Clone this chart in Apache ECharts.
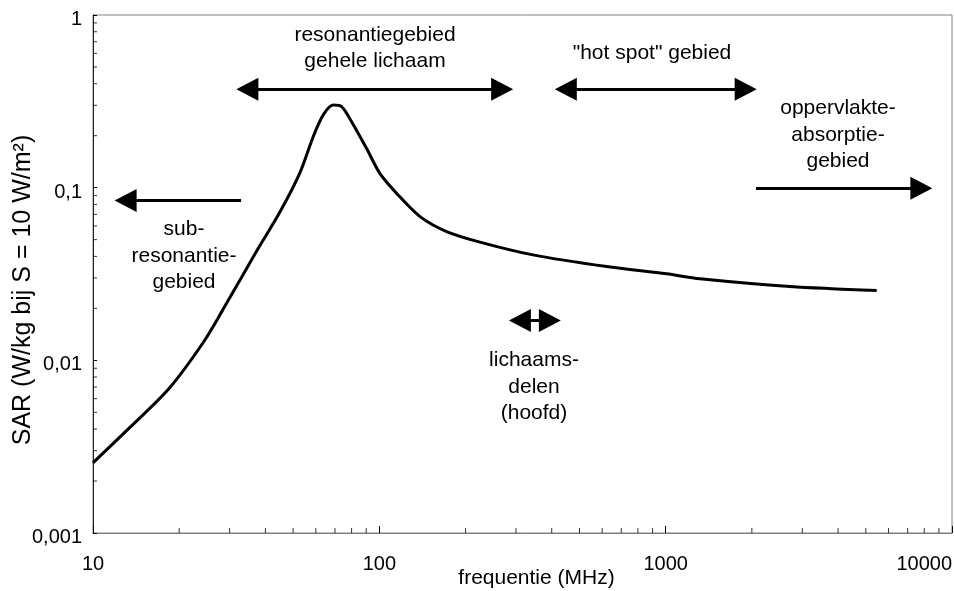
<!DOCTYPE html>
<html><head><meta charset="utf-8">
<script src="https://cdn.jsdelivr.net/npm/echarts@6/dist/echarts.min.js"></script>
<style>html,body{margin:0;padding:0;background:#fff}#c{width:954px;height:591px}</style>
</head><body><div id="c"></div>
<script>
// SAR curve (frequency in MHz, SAR in W/kg at S = 10 W/m2)
const freq = [10, 13.4, 18.5, 24.2, 28.4, 37.2, 44.9, 52.7, 58.8, 63.7, 69.0, 73.8, 80.0, 90.2, 100.4, 114.8, 138.7, 171.8, 224.5, 344, 622, 1007, 1318, 2716, 5458];
const sar  = [0.00255, 0.00406, 0.00692, 0.0126, 0.0196, 0.0427, 0.072, 0.121, 0.198, 0.264, 0.301, 0.295, 0.241, 0.169, 0.121, 0.0929, 0.068, 0.0557, 0.0484, 0.0408, 0.0349, 0.0317, 0.0297, 0.0268, 0.0254];

// Region arrows (data coordinates of the arrow ends)
const arrowFrom  = [34.6, 13.0, 448, 2068, 309.7];
const arrowTo    = [268.5, 32.9, 1903, 7816, 394];
const arrowLevel = [0.3715, 0.0842, 0.3715, 0.0993, 0.0170];
const arrowStart = ['triangle', 'triangle', 'triangle', 'none', 'triangle'];
const arrowEnd   = ['triangle', 'none', 'triangle', 'triangle', 'triangle'];

// Region labels
const regionLabels = [
  'resonantiegebied\ngehele lichaam',
  '"hot spot" gebied',
  'oppervlakte-\nabsorptie-\ngebied',
  'sub-\nresonantie-\ngebied',
  'lichaams-\ndelen\n(hoofd)'
];

// Axis ticks
const xMin = 10, xMax = 10000, yMin = 0.001, yMax = 1;
const xMinorTicks = [20,30,40,50,60,70,80,90,200,300,400,500,600,700,800,900,2000,3000,4000,5000,6000,7000,8000,9000];
const yMinorTicks = [0.002,0.003,0.004,0.005,0.006,0.007,0.008,0.009,0.02,0.03,0.04,0.05,0.06,0.07,0.08,0.09,0.2,0.3,0.4,0.5,0.6,0.7,0.8,0.9];

const FONT = '"Liberation Sans", Arial, sans-serif';
const chart = echarts.init(document.getElementById('c'), null, {renderer: 'canvas'});

const labelPos = [[375, 48], [652, 53], [838, 135], [184, 256], [534, 387]];

const markData = arrowFrom.map((f, i) => [
  {coord: [f, arrowLevel[i]], symbol: arrowStart[i]},
  {coord: [arrowTo[i], arrowLevel[i]], symbol: arrowEnd[i]}
]);

chart.setOption({
  animation: false,
  backgroundColor: '#fff',
  textStyle: {fontFamily: FONT},
  grid: {left: 93, right: 2, top: 15, bottom: 58, show: true, borderColor: '#808080', borderWidth: 1,
    containLabel: false, outerBoundsMode: 'none'},
  xAxis: {
    type: 'log', logBase: 10, min: xMin, max: xMax,
    axisLine: {lineStyle: {color: '#808080', width: 1}},
    axisTick: {inside: true, length: 7, lineStyle: {color: '#000'}},
    splitLine: {show: false},
    axisLabel: {fontSize: 20, color: '#000', margin: 21, fontFamily: FONT, alignMaxLabel: 'right',
      formatter: v => String(v)},
    name: 'frequentie (MHz)', nameLocation: 'middle', nameGap: 35, nameMoveOverlap: false,
    nameTextStyle: {fontSize: 21, color: '#000', fontFamily: FONT, padding: [0, 0, 0, 28]}
  },
  yAxis: {
    type: 'log', logBase: 10, min: yMin, max: yMax,
    axisLine: {show: true, lineStyle: {color: '#222', width: 1}},
    axisTick: {inside: true, length: 4, lineStyle: {color: '#000'}},
    splitLine: {show: false},
    axisLabel: {color: '#000', margin: 11, fontFamily: FONT,
      formatter: v => '{v|' + String(v).replace('.', ',') + '}',
      rich: {v: {fontSize: 20, fontFamily: FONT, color: '#000', padding: [9, 0, 0, 0]}}},
    name: 'SAR (W/kg bij S = 10 W/m²)', nameLocation: 'middle', nameGap: 57, nameMoveOverlap: false,
    nameTextStyle: {fontSize: 25, color: '#000', fontFamily: FONT, padding: [0, 32, 0, 0]}
  },
  series: [
    {
      type: 'line', data: freq.map((f, i) => [f, sar[i]]),
      showSymbol: false, smooth: 0.3, silent: true,
      lineStyle: {color: '#000', width: 3},
      markLine: {
        silent: true, symbolSize: [23, 22], precision: 6,
        label: {show: false},
        lineStyle: {color: '#000', width: 3, type: 'solid'},
        itemStyle: {color: '#000'},
        data: markData
      }
    },
    {
      type: 'scatter', silent: true, clip: false,
      data: xMinorTicks.map(v => [v, yMin]),
      symbol: 'rect', symbolSize: [1, 5], symbolOffset: [0, -2.5],
      itemStyle: {color: '#000'}
    },
    {
      type: 'scatter', silent: true, clip: false,
      data: yMinorTicks.map(v => [xMin, v]),
      symbol: 'rect', symbolSize: [4, 1], symbolOffset: [2, 0],
      itemStyle: {color: '#000'}
    }
  ],
  graphic: regionLabels.map((t, i) => ({
    type: 'text', x: labelPos[i][0], y: labelPos[i][1], silent: true,
    style: {text: t, fontSize: 21, fontFamily: FONT, fill: '#000', align: 'center', verticalAlign: 'middle', lineHeight: 26.5}
  }))
});
</script></body></html>
